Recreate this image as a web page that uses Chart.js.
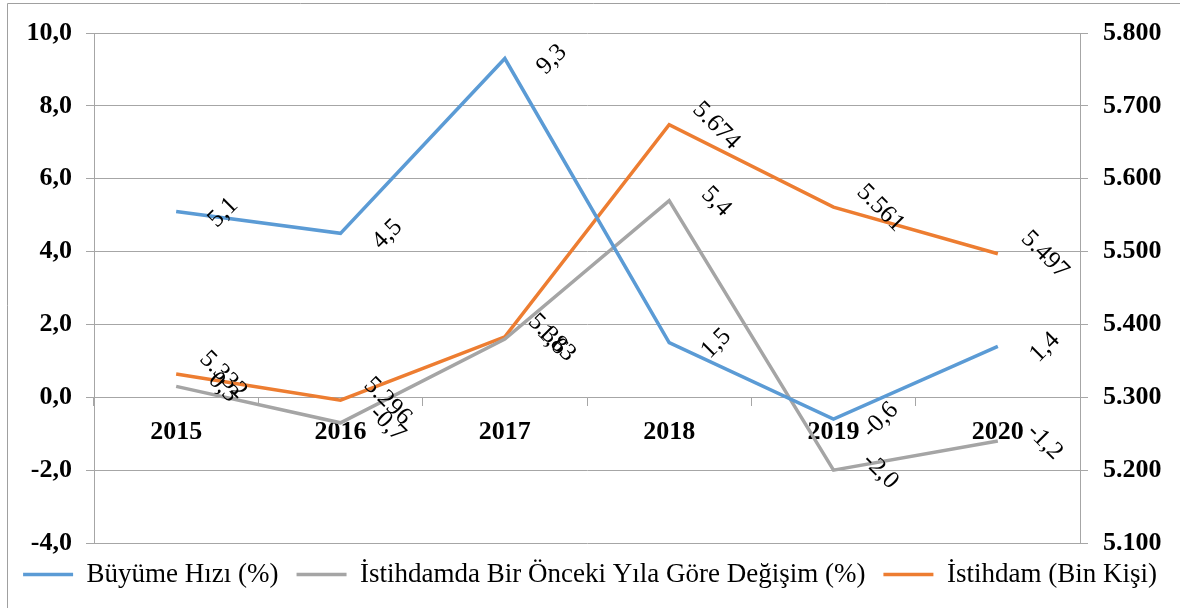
<!DOCTYPE html>
<html>
<head>
<meta charset="utf-8">
<script src="https://cdn.jsdelivr.net/npm/chart.js@4"></script>
<style>
  body { margin: 0; background: #fff; }
  #wrap { width: 1180px; height: 608px; }
</style>
</head>
<body>
<div id="wrap"><canvas id="chart-line-1" width="1180" height="608"></canvas></div>
<script>
// data
const years = ['2015', '2016', '2017', '2018', '2019', '2020'];
const buyumeHizi = [5.1, 4.5, 9.3, 1.5, -0.6, 1.4];
const istihdamDegisim = [0.3, -0.7, 1.6, 5.4, -2.0, -1.2];
const istihdam = [5332, 5296, 5383, 5674, 5561, 5497];

const FONT = '"Liberation Serif", "Times New Roman", serif';
const gridColor = '#a6a6a6';

const commaFmt = v => v.toFixed(1).replace('.', ',');
const dotFmt = v => Math.round(v).toString().replace(/\B(?=(\d{3})+(?!\d))/g, '.');

// rotated labels next to every point (like excel "right" labels)
const pointLabels = {
    id: 'pointLabels',
    afterDatasetsDraw(chart) {
        const ctx = chart.ctx;
        chart.data.datasets.forEach((ds, i) => {
            const meta = chart.getDatasetMeta(i);
            meta.data.forEach((pt, j) => {
                ctx.save();
                ctx.translate(pt.x + 47, pt.y + 1);
                ctx.rotate(ds.labelAngle * Math.PI / 180);
                ctx.font = '25px ' + FONT;
                ctx.fillStyle = '#000';
                ctx.textAlign = 'center';
                ctx.textBaseline = 'middle';
                ctx.fillText(ds.fmt(ds.data[j]), 0, 0);
                ctx.restore();
            });
        });
    }
};

// outer frame of the chart object
const frame = {
    id: 'frame',
    beforeDraw(chart) {
        const ctx = chart.ctx;
        ctx.save();
        ctx.strokeStyle = '#a0a0a0';
        ctx.lineWidth = 1;
        ctx.beginPath();
        ctx.moveTo(7.5, 608);
        ctx.lineTo(7.5, 3.5);
        ctx.lineTo(1180, 3.5);
        ctx.stroke();
        ctx.restore();
    }
};

var canvas = document.getElementById('chart-line-1').getContext('2d');
var myLineChart = new Chart(canvas, {
    type: 'line',
    data: {
        labels: years,
        datasets: [{
            label: 'Büyüme Hızı (%)',
            data: buyumeHizi,
            borderColor: '#5b9bd5',
            backgroundColor: '#5b9bd5',
            borderWidth: 3.5,
            yAxisID: 'y',
            labelAngle: -45,
            fmt: commaFmt
        }, {
            label: 'İstihdamda Bir Önceki Yıla Göre Değişim (%)',
            data: istihdamDegisim,
            borderColor: '#a5a5a5',
            backgroundColor: '#a5a5a5',
            borderWidth: 3.5,
            yAxisID: 'y',
            labelAngle: 45,
            fmt: commaFmt
        }, {
            label: 'İstihdam (Bin Kişi)',
            data: istihdam,
            borderColor: '#ed7d31',
            backgroundColor: '#ed7d31',
            borderWidth: 3.5,
            yAxisID: 'y1',
            labelAngle: 45,
            fmt: dotFmt
        }]
    },
    options: {
        responsive: false,
        animation: false,
        layout: { padding: { left: 0, right: 0, top: 33, bottom: 10 } },
        elements: {
            line: { tension: 0 },
            point: { radius: 0, hoverRadius: 0 }
        },
        plugins: {
            tooltip: { enabled: false },
            legend: {
                position: 'bottom',
                labels: {
                    usePointStyle: true,
                    pointStyle: 'line',
                    pointStyleWidth: 50,
                    boxHeight: 27,
                    padding: 18,
                    color: '#000',
                    font: { family: FONT, size: 27 }
                }
            }
        },
        scales: {
            x: {
                position: { y: 0 },
                offset: true,
                grid: { display: true, drawOnChartArea: false, offset: true, tickLength: 8, color: gridColor },
                border: { display: true, color: gridColor },
                ticks: { color: '#000', padding: 11, maxRotation: 0, font: { family: FONT, size: 26, weight: 'bold' } }
            },
            y: {
                position: 'left',
                min: -4,
                max: 10,
                grid: { color: gridColor, tickLength: 8 },
                border: { color: gridColor },
                ticks: {
                    stepSize: 2,
                    padding: 14,
                    color: '#000',
                    font: { family: FONT, size: 26, weight: 'bold' },
                    callback: v => commaFmt(v)
                },
                afterFit: s => { s.width = 94; }
            },
            y1: {
                position: 'right',
                min: 5100,
                max: 5800,
                grid: { drawOnChartArea: false, color: gridColor, tickLength: 8 },
                border: { color: gridColor },
                ticks: {
                    stepSize: 100,
                    padding: 15,
                    color: '#000',
                    font: { family: FONT, size: 26, weight: 'bold' },
                    callback: v => dotFmt(v)
                },
                afterFit: s => { s.width = 100; }
            }
        }
    },
    plugins: [pointLabels, frame]
});
</script>
</body>
</html>
